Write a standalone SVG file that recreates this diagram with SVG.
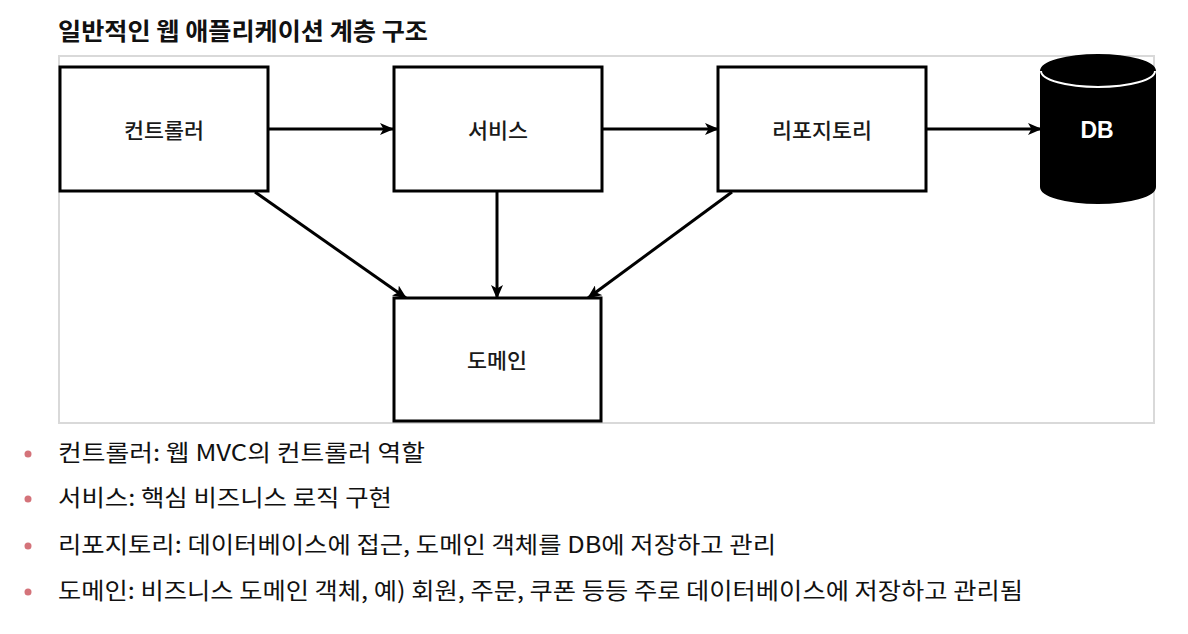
<svg xmlns="http://www.w3.org/2000/svg" width="1188" height="634" viewBox="0 0 1188 634">
<style>
.box{fill:#ffffff;stroke:#000000;stroke-width:3}
.lbl{font-family:"Noto Sans CJK KR","Noto Sans",sans-serif;font-size:21px;font-weight:500;fill:#1a1a1a;text-anchor:middle;dominant-baseline:central}
.conn{stroke:#000000;stroke-width:3;fill:none;marker-end:url(#ah)}
.item{font-family:"Noto Sans CJK KR","Noto Sans",sans-serif;font-size:23px;fill:#111111}
.dot{fill:#d4737a}
</style>
<defs>
<marker id="ah" viewBox="0 0 14 12" refX="13" refY="6" markerWidth="14" markerHeight="12" markerUnits="userSpaceOnUse" orient="auto">
<path d="M0,0 L14,6 L0,12 L3.5,6 Z" fill="#000000"/>
</marker>
</defs>
<rect width="1188" height="634" fill="#ffffff"/>
<text x="58" y="40" font-family="Noto Sans CJK KR, Noto Sans, sans-serif" font-size="24" font-weight="700" fill="#111111" textLength="370" lengthAdjust="spacingAndGlyphs">일반적인 웹 애플리케이션 계층 구조</text>
<rect x="59" y="56" width="1095" height="367" fill="#ffffff" stroke="#d9d9d9" stroke-width="2"/>
<g id="connectors">
<line class="conn" x1="268" y1="129" x2="393" y2="129"/>
<line class="conn" x1="602" y1="129" x2="718" y2="129"/>
<line class="conn" x1="926" y1="129" x2="1041" y2="129"/>
<line class="conn" x1="255" y1="192" x2="406" y2="298"/>
<line class="conn" x1="497" y1="192" x2="497" y2="298"/>
<line class="conn" x1="732" y1="192" x2="588" y2="298"/>
</g>
<g id="controller">
<rect class="box" x="60" y="67" width="208" height="124"/>
<text class="lbl" x="164" y="129" textLength="80" lengthAdjust="spacingAndGlyphs">컨트롤러</text>
</g>
<g id="service">
<rect class="box" x="394" y="67" width="208" height="124"/>
<text class="lbl" x="498" y="129" textLength="60" lengthAdjust="spacingAndGlyphs">서비스</text>
</g>
<g id="repository">
<rect class="box" x="718" y="67" width="208" height="124"/>
<text class="lbl" x="822" y="129" textLength="100" lengthAdjust="spacingAndGlyphs">리포지토리</text>
</g>
<g id="db">
<path d="M1041,71 L1041,187 A57,16 0 0 0 1155,187 L1155,71 A57,16 0 0 0 1041,71 Z" fill="#000000" stroke="#000000" stroke-width="2"/>
<path d="M1041,71 A57,16 0 0 0 1155,71" fill="none" stroke="#ffffff" stroke-width="2"/>
<text x="1097" y="130" font-family="Liberation Sans, Arial, sans-serif" font-size="23" font-weight="700" fill="#ffffff" text-anchor="middle" dominant-baseline="central">DB</text>
</g>
<g id="domain">
<rect class="box" x="394" y="298" width="207" height="123"/>
<text class="lbl" x="497" y="359" textLength="60" lengthAdjust="spacingAndGlyphs">도메인</text>
</g>
<g id="notes">
<circle class="dot" cx="28" cy="454" r="3.5"/>
<circle class="dot" cx="28" cy="499" r="3.5"/>
<circle class="dot" cx="28" cy="546" r="3.5"/>
<circle class="dot" cx="28" cy="592" r="3.5"/>
<text class="item" x="58" y="461" textLength="367" lengthAdjust="spacingAndGlyphs">컨트롤러: 웹 MVC의 컨트롤러 역할</text>
<text class="item" x="58" y="506" textLength="334" lengthAdjust="spacingAndGlyphs">서비스: 핵심 비즈니스 로직 구현</text>
<text class="item" x="58" y="553" textLength="718" lengthAdjust="spacingAndGlyphs">리포지토리: 데이터베이스에 접근, 도메인 객체를 DB에 저장하고 관리</text>
<text class="item" x="58" y="599" textLength="965" lengthAdjust="spacingAndGlyphs">도메인: 비즈니스 도메인 객체, 예) 회원, 주문, 쿠폰 등등 주로 데이터베이스에 저장하고 관리됨</text>
</g>
</svg>
